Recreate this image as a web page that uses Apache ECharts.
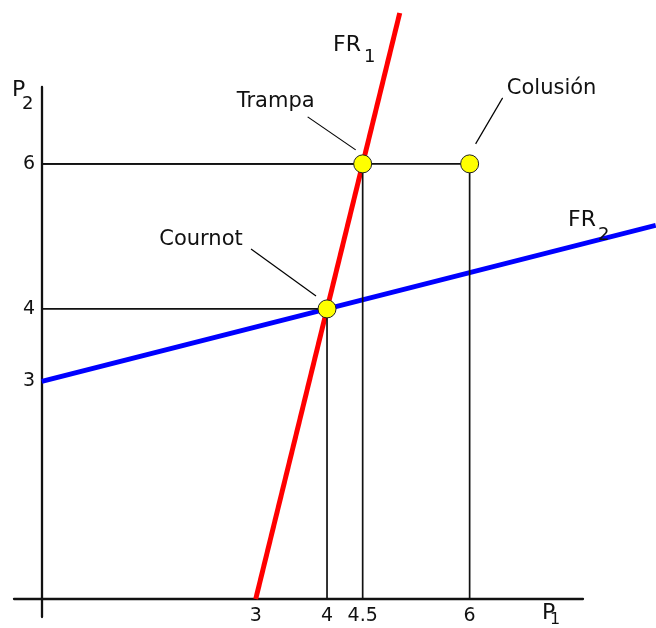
<!DOCTYPE html>
<html>
<head>
<meta charset="utf-8">
<title>Cournot - Trampa - Colusión</title>
<script src="https://cdn.jsdelivr.net/npm/echarts@6.0.0/dist/echarts.min.js"></script>
<style>
  html, body { margin: 0; padding: 0; background: #fff; }
  #chart { width: 656px; height: 628px; }
</style>
</head>
<body>
<div id="chart"></div>
<script type="text/javascript">
// tick labels
var xTicks = [3, 4, 4.5, 6];
var yTicks = [3, 4, 6];
// reaction functions (end points)
var fr1 = [[3, 0], [5.02, 8.08]];      // P1 = 3 + P2/4
var fr2 = [[0, 3], [8.61, 5.1525]];    // P2 = 3 + P1/4
// equilibria
var eqNames = ['Cournot', 'Trampa', 'Colusión'];
var eqPoints = [[4, 4], [4.5, 6], [6, 6]];

var FONT = '"DejaVu Sans", "Liberation Sans", sans-serif';
var INK = '#111';

// axis ranges; the second (hidden) x axis keeps the same scale but reaches the right edge
var X_MIN = -0.39, X_MAX = 7.59, X_MAX_WIDE = 8.614;
var Y_MIN = -0.248, Y_MAX = 7.06;

var chart = echarts.init(document.getElementById('chart'));

// guides from each point to both axes
var guideSeries = eqPoints.map(function (p) {
  return {
    type: 'line',
    data: [[0, p[1]], [p[0], p[1]], [p[0], 0]],
    symbol: 'none',
    lineStyle: { color: INK, width: 1.7 },
    z: 3,
    silent: true
  };
});

var hiddenAxis = { type: 'value', show: false, splitLine: { show: false } };

var option = {
  animation: false,
  backgroundColor: '#fff',
  grid: [
    { left: 14, right: 73, top: 87, bottom: 11, containLabel: false, outerBoundsMode: 'none' },
    { left: 14, right: 0, top: 87, bottom: 11, containLabel: false, outerBoundsMode: 'none' }
  ],
  xAxis: [
    {
      type: 'value',
      min: X_MIN,
      max: X_MAX,
      splitLine: { show: false },
      axisTick: { show: false },
      axisLine: { lineStyle: { color: INK, width: 2.3 } },
      axisLabel: {
        customValues: xTicks,
        color: INK,
        fontSize: 19,
        fontFamily: FONT,
        margin: -10
      }
    },
    Object.assign({ gridIndex: 1, min: X_MIN, max: X_MAX_WIDE }, hiddenAxis)
  ],
  yAxis: [
    {
      type: 'value',
      min: Y_MIN,
      max: Y_MAX,
      splitLine: { show: false },
      axisTick: { show: false },
      axisLine: { lineStyle: { color: INK, width: 2.3 } },
      axisLabel: {
        customValues: yTicks,
        color: INK,
        fontSize: 19,
        fontFamily: FONT,
        margin: -21
      }
    },
    Object.assign({ gridIndex: 1, min: Y_MIN, max: Y_MAX }, hiddenAxis)
  ],
  series: [
    {
      name: 'FR1',
      type: 'line',
      data: fr1,
      symbol: 'none',
      clip: false,
      lineStyle: { color: '#ff0000', width: 5 },
      z: 2
    },
    {
      name: 'FR2',
      type: 'line',
      xAxisIndex: 1,
      yAxisIndex: 1,
      data: fr2,
      symbol: 'none',
      clip: false,
      lineStyle: { color: '#0000ff', width: 5 },
      z: 2
    }
  ].concat(guideSeries).concat([
    {
      name: 'equilibrios',
      type: 'scatter',
      data: eqPoints,
      symbol: 'circle',
      symbolSize: 18,
      itemStyle: { color: '#ffff00', borderColor: '#222', borderWidth: 1, opacity: 1 },
      z: 5
    }
  ])
};
chart.setOption(option);

function txt(s, x, y, size, align) {
  return {
    type: 'text',
    x: x, y: y, z: 10,
    style: {
      text: s, fill: INK,
      font: size + 'px ' + FONT,
      textAlign: align || 'left', align: align || 'left',
      textVerticalAlign: 'middle', verticalAlign: 'middle'
    }
  };
}
function seg(x1, y1, x2, y2) {
  return {
    type: 'line', z: 10,
    shape: { x1: x1, y1: y1, x2: x2, y2: y2 },
    style: { stroke: '#000', lineWidth: 1.2 }
  };
}

// label and leader offsets around each point
var labelOff = [[-126, -69], [-87, -62], [82, -75]];
var leadOff = [[-76, -60, -11, -13], [-55, -47, -7, -14], [6, -20, 33, -66]];

var g = [];
eqPoints.forEach(function (p, i) {
  var c = chart.convertToPixel({ gridIndex: 0 }, p);
  var o = labelOff[i], l = leadOff[i];
  g.push(txt(eqNames[i], c[0] + o[0], c[1] + o[1], 21, 'center'));
  g.push(seg(c[0] + l[0], c[1] + l[1], c[0] + l[2], c[1] + l[3]));
});

// curve and axis names
g.push(txt('FR', 333, 45, 22));
g.push(txt('1', 364, 57, 18));
g.push(txt('FR', 568, 220, 22));
g.push(txt('2', 598, 235, 18));
g.push(txt('P', 12, 90, 22));
g.push(txt('2', 22, 104, 18));
g.push(txt('P', 542, 613, 22));
g.push(txt('1', 550, 620, 16));

chart.setOption({ graphic: g });
</script>
</body>
</html>
